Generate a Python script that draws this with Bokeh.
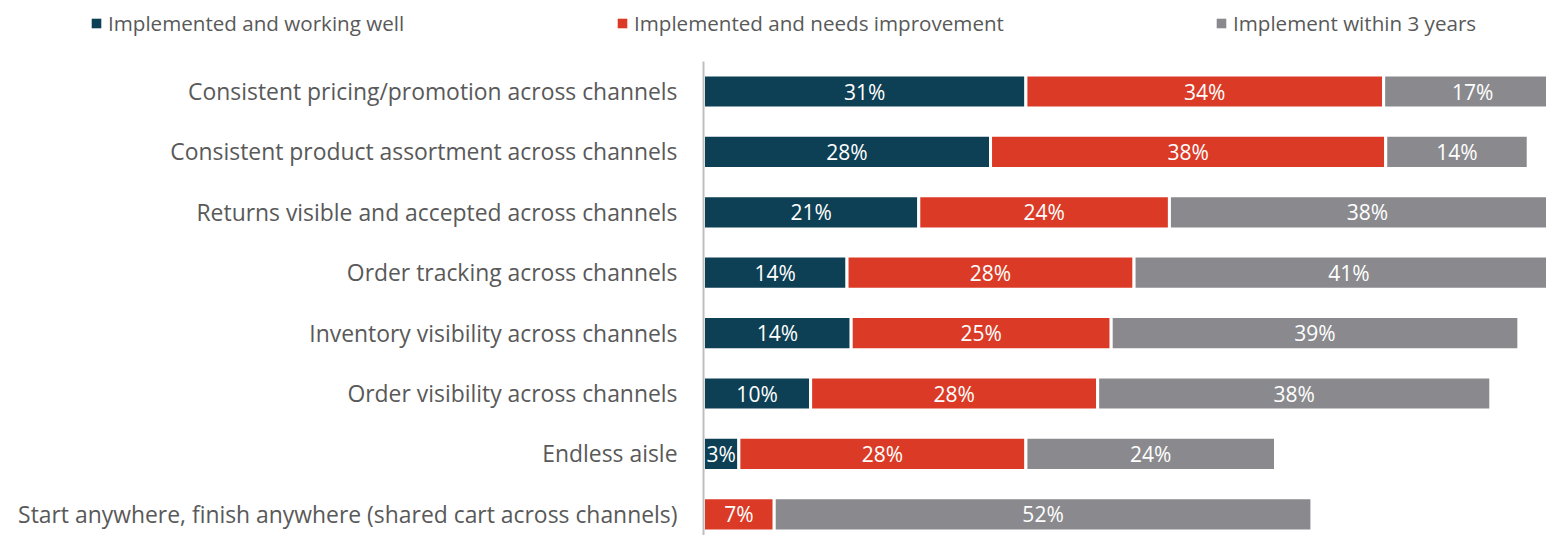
from bokeh.plotting import figure
from bokeh.layouts import column
from bokeh.models import Range1d, FixedTicker, Legend, LegendItem, ColumnDataSource
from bokeh.embed import file_html
from bokeh.resources import INLINE
from bokeh.core.properties import value

categories = [
    "Consistent pricing/promotion across channels",
    "Consistent product assortment across channels",
    "Returns visible and accepted across channels",
    "Order tracking across channels",
    "Inventory visibility across channels",
    "Order visibility across channels",
    "Endless aisle",
    "Start anywhere, finish anywhere (shared cart across channels)",
]
series_names = [
    "Implemented and working well",
    "Implemented and needs improvement",
    "Implement within 3 years",
]
working_well = [31.0, 27.6, 20.7, 13.8, 14.2, 10.3, 3.4, 0.0]
needs_improvement = [34.4, 38.0, 24.1, 27.6, 25.0, 27.6, 27.6, 6.8]
within_3_years = [17.1, 13.7, 38.1, 41.3, 39.2, 37.8, 24.0, 51.7]
colors = ["#0D3F55", "#DB3B26", "#8A8A8E"]

FONT = "Open Sans"
W = 1547
LEG_H = 61
MAIN_H = 474
LEFT = 703
PX_PER_PCT = 10.4

# ---------------- legend strip ----------------
lp = figure(width=W, height=LEG_H, output_backend="svg", toolbar_location=None,
            x_range=Range1d(0, W), y_range=Range1d(0, LEG_H),
            min_border=0, min_border_left=0, min_border_right=0,
            min_border_top=0, min_border_bottom=0)
lp.outline_line_color = None
lp.axis.visible = False
lp.grid.visible = False

legend_x = [90, 616, 1215]
for name, col, lx in zip(series_names, colors, legend_x):
    dummy = lp.hbar(y=[-50], left=[-50], right=[-40], height=1,
                    fill_color=col, line_color=None)
    lg = Legend(items=[LegendItem(label=name, renderers=[dummy])],
                orientation="horizontal", location=(lx, 38 - 15),
                glyph_width=12, glyph_height=12, label_standoff=6,
                padding=0, margin=0, border_line_color=None,
                background_fill_alpha=0, label_text_font=FONT,
                label_text_font_size="20.6px", label_text_color="#595959",
                label_height=30)
    lp.add_layout(lg)

# ---------------- main chart ----------------
frame_w = W - LEFT
p = figure(width=W, height=MAIN_H, output_backend="svg", toolbar_location=None,
           x_range=Range1d(0, frame_w / PX_PER_PCT),
           y_range=Range1d((MAIN_H - 30) / 60.4, -30 / 60.4),
           min_border_left=LEFT, min_border_right=0, min_border_top=0,
           min_border_bottom=0)
p.outline_line_color = None
p.xgrid.visible = False
p.ygrid.visible = False
p.xaxis.visible = False

for fig in (lp, p):
    if "frame_align" in fig.properties():
        fig.frame_align = False

yax = p.yaxis[0]
yax.ticker = FixedTicker(ticks=list(range(len(categories))))
yax.major_label_overrides = {i: c for i, c in enumerate(categories)}
yax.major_tick_line_color = None
yax.minor_tick_line_color = None
yax.major_tick_out = 0
yax.major_tick_in = 0
yax.major_label_standoff = 26
yax.axis_line_color = "#BFBFBF"
yax.axis_line_width = 2
yax.major_label_text_font = FONT
yax.major_label_text_font_size = "22.9px"
yax.major_label_text_color = "#595959"

series = [working_well, needs_improvement, within_3_years]
cum = [0.0] * len(categories)
for name, vals, col in zip(series_names, series, colors):
    ys, lefts, rights, mids, labels = [], [], [], [], []
    for i, v in enumerate(vals):
        if v > 0:
            ys.append(i)
            lefts.append(cum[i])
            rights.append(cum[i] + v)
            mids.append(cum[i] + v / 2)
            labels.append(f"{round(v)}%")
        cum[i] += v
    src = ColumnDataSource(dict(y=ys, left=lefts, right=rights, mid=mids, label=labels))
    p.hbar(y="y", left="left", right="right", height=0.55, source=src,
           fill_color=col, line_color="white", line_width=3)
    p.text(x="mid", y="y", text="label", source=src, text_align="center",
           text_baseline="middle", text_color="white",
           text_font=value(FONT), text_font_size="21px")

layout = column(lp, p, spacing=0)
open("out.html", "w").write(file_html(layout, INLINE))
